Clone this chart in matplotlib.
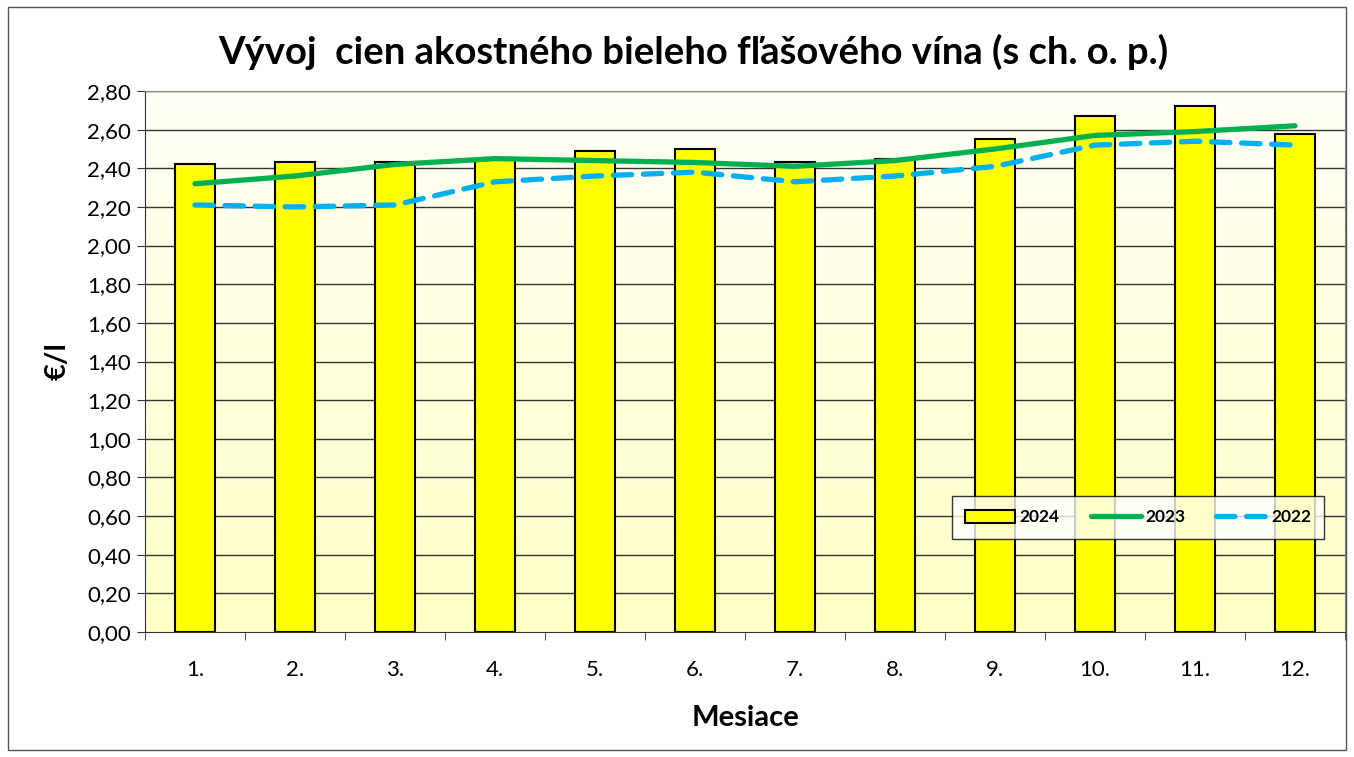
import numpy as np
import matplotlib
matplotlib.use("Agg")
import matplotlib.pyplot as plt
from matplotlib.patches import Rectangle

plt.rcParams['font.family'] = ['Lato', 'DejaVu Sans']

# data
months = ["1.", "2.", "3.", "4.", "5.", "6.", "7.", "8.", "9.", "10.", "11.", "12."]
price_2024 = [2.42, 2.43, 2.43, 2.45, 2.49, 2.50, 2.43, 2.45, 2.55, 2.67, 2.72, 2.58]
price_2023 = [2.32, 2.36, 2.42, 2.45, 2.44, 2.43, 2.41, 2.44, 2.50, 2.57, 2.59, 2.62]
price_2022 = [2.21, 2.20, 2.21, 2.33, 2.36, 2.38, 2.33, 2.36, 2.41, 2.52, 2.54, 2.52]
y_ticks = np.arange(0, 2.81, 0.2)

W, H = 1354, 757
fig = plt.figure(figsize=(W / 100, H / 100), dpi=100)

# outer chart border
fig.patches.append(Rectangle((8 / W, 1 - 750 / H), 1338 / W, 743 / H,
                             transform=fig.transFigure, fill=False,
                             edgecolor="#555555", linewidth=1.0))

ax = fig.add_axes([145 / W, 1 - 632 / H, 1200 / W, 541 / H])
x = np.arange(len(months))

# gradient background of the plot area
grad = np.linspace(0, 1, 256).reshape(-1, 1)
cmap = matplotlib.colors.LinearSegmentedColormap.from_list("bg", ["#FFFFC6", "#FFFFF6"])
ax.imshow(grad, extent=[-0.5, 11.5, 2.8, 0], aspect="auto", cmap=cmap, zorder=0)

ax.set_xlim(-0.5, 11.5)
ax.set_ylim(0, 2.8)

for yv in y_ticks[1:]:
    ax.axhline(yv, color="#333333", linewidth=1.0, zorder=1)

bars = ax.bar(x, price_2024, width=0.4, color="#FFFF00", edgecolor="black",
              linewidth=1.5, zorder=2, label="2024")
l23, = ax.plot(x, price_2023, color="#00B050", linewidth=3.8, zorder=3,
               solid_capstyle="round", label="2023")
l22, = ax.plot(x, price_2022, color="#00B0F0", linewidth=3.8, zorder=3,
               dash_capstyle="round", label="2022")
l22.set_dashes((3.5, 2.2))

ax.set_yticks(y_ticks)
ax.set_yticklabels([f"{v:.2f}".replace(".", ",") for v in y_ticks], fontsize=16)
ax.set_xticks(x)
ax.set_xticklabels(months, fontsize=16)
ax.set_xticks(np.arange(-0.5, 12, 1), minor=True)
ax.tick_params(axis="x", which="major", length=0, pad=20)
ax.tick_params(axis="x", which="minor", length=6, color="#333333")
ax.tick_params(axis="y", length=6, color="#333333", pad=4)

for side in ["top", "right"]:
    ax.spines[side].set_color("#888888")
ax.spines["left"].set_color("#333333")
ax.spines["bottom"].set_color("#333333")

ax.set_ylabel("€/l", fontsize=21, fontweight="bold", labelpad=12)
ax.set_xlabel("Mesiace", fontsize=21, fontweight="bold", labelpad=18)

fig.text(693 / W, 1 - 52 / H, "Vývoj  cien akostného bieleho fľašového vína (s ch. o. p.)",
         ha="center", va="center", fontsize=27.5, fontweight="bold")

# legend box: x 952..1324, y 495..540 in pixels
lx0 = (952 - 145) / 1200
lw = (1324 - 952) / 1200
lh = (540 - 495) / 541
ly0 = (632 - 540) / 541
leg = ax.legend(handles=[bars, l23, l22], loc="center left", mode="expand",
                bbox_to_anchor=(lx0, ly0, lw, lh),
                ncol=3, frameon=True, fancybox=False, edgecolor="black",
                prop={"size": 12.5, "weight": "bold"}, handlelength=2.9,
                columnspacing=0.8, borderpad=0.75, handletextpad=0.25,
                borderaxespad=0)
leg.get_frame().set_linewidth(1.0)
leg.set_zorder(5)

fig.savefig("out.png", dpi=100)
